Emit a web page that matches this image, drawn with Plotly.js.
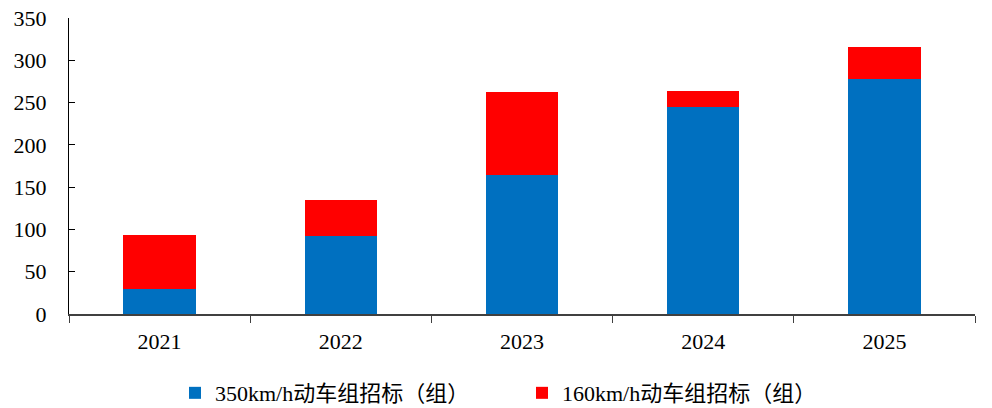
<!DOCTYPE html>
<html>
<head>
<meta charset="utf-8">
<script src="https://cdn.plot.ly/plotly-3.0.1.min.js"></script>
<style>html,body{margin:0;padding:0;background:#fff;}#chart{width:992px;height:408px;}</style>
</head>
<body>
<div id="chart"></div>
<script>
var years = ["2021", "2022", "2023", "2024", "2025"];
var series350 = [30, 92, 164, 245, 278];
var series160 = [63, 43, 99, 19, 38];
var name350 = "350km/h动车组招标（组）";
var name160 = "160km/h动车组招标（组）";
var yTicks = [0, 50, 100, 150, 200, 250, 300, 350];

var fontFam = "'Liberation Serif', 'Times New Roman', 'Noto Sans CJK SC', serif";

var data = [
  {type: "bar", x: years, y: series350, name: name350, marker: {color: "#0070C0", line: {width: 0}}},
  {type: "bar", x: years, y: series160, name: name160, marker: {color: "#FF0000", line: {width: 0}}}
];

var layout = {
  width: 992, height: 408,
  margin: {l: 69, r: 17, t: 18, b: 94, autoexpand: false},
  barmode: "stack",
  bargap: 0.6,
  paper_bgcolor: "#fff", plot_bgcolor: "#fff",
  font: {family: fontFam, size: 22, color: "#000"},
  showlegend: true,
  legend: {orientation: "h", x: 0.117, xanchor: "left", y: -0.267, yanchor: "middle",
           font: {family: fontFam, size: 22, color: "#000"}, itemwidth: 30, traceorder: "normal",
           entrywidth: 302, entrywidthmode: "pixels"},
  xaxis: {type: "category", showline: true, linecolor: "#404040", linewidth: 1.5,
          ticks: "outside", tickson: "boundaries", ticklen: 7, tickcolor: "#404040",
          showgrid: false, zeroline: false, fixedrange: true, ticklabelstandoff: 7},
  yaxis: {range: [0, 350], tickvals: yTicks, ticktext: yTicks.map(String), showline: true,
          linecolor: "#000", linewidth: 1.2, ticks: "inside", ticklen: 6, tickcolor: "#000",
          showgrid: false, zeroline: false, ticklabelstandoff: 17, fixedrange: true}
};

Plotly.newPlot("chart", data, layout, {displayModeBar: false, staticPlot: true});
</script>
</body>
</html>
